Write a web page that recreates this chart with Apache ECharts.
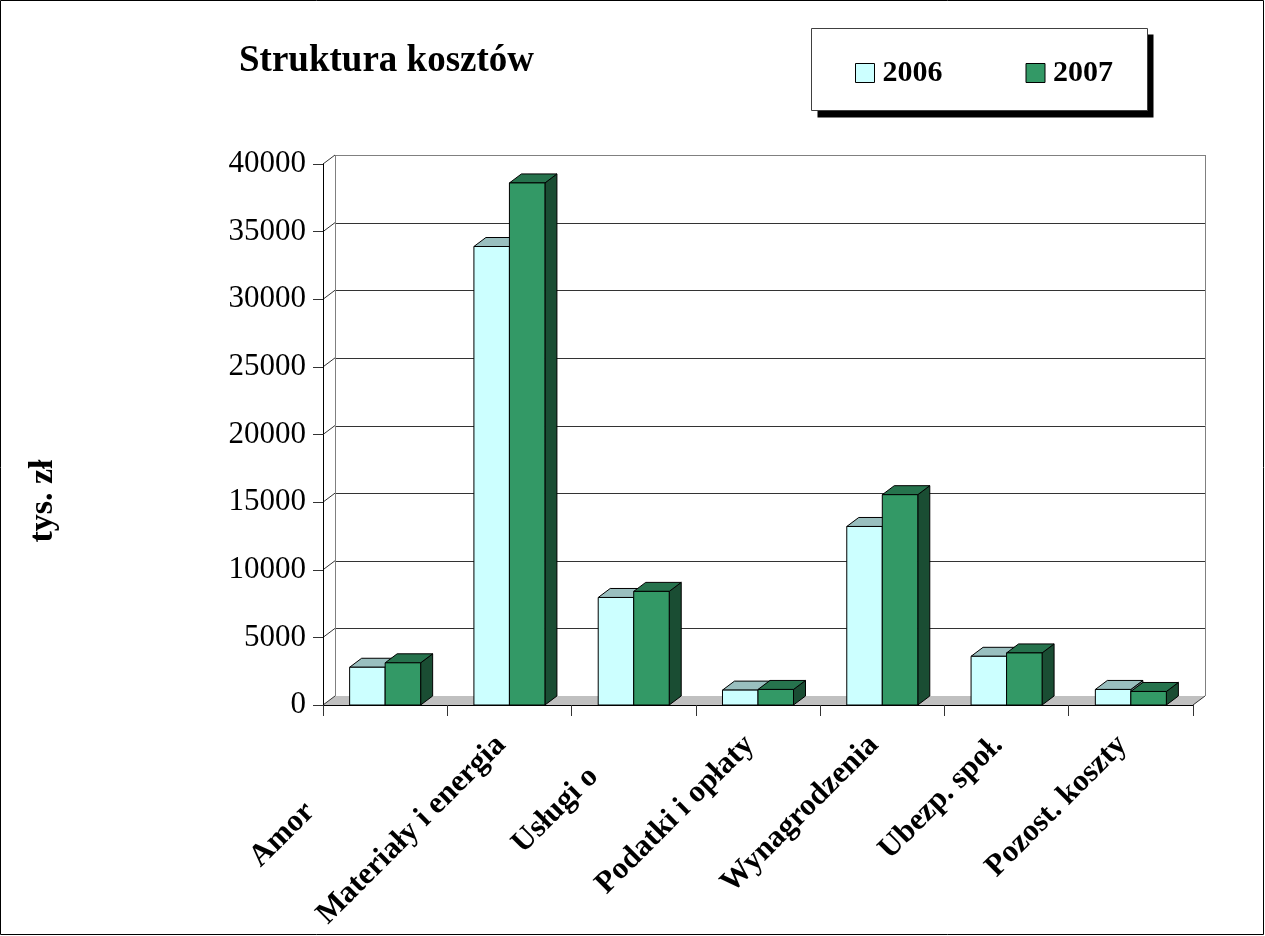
<!DOCTYPE html>
<html>
<head>
<meta charset="utf-8">
<title>Struktura kosztów</title>
<script src="https://cdn.jsdelivr.net/npm/echarts@6/dist/echarts.min.js"></script>
<style>
  html, body { margin: 0; padding: 0; background: #ffffff; }
  #chart { width: 1265px; height: 936px; }
</style>
</head>
<body>
<div id="chart"></div>
<script>
// ---- data ----
const categories = ['Amortyzacja', 'Materiały i energia', 'Usługi obce', 'Podatki i opłaty', 'Wynagrodzenia', 'Ubezp. społ.', 'Pozost. koszty'];
const seriesNames = ['2006', '2007'];
const values2006 = [2790, 33900, 7950, 1100, 13200, 3600, 1150];
const values2007 = [3120, 38600, 8400, 1150, 15550, 3850, 1000];
const yTicks = [0, 5000, 10000, 15000, 20000, 25000, 30000, 35000, 40000];
const unitLabel = 'tys. zł';
const titleText = 'Struktura kosztów';
// how many leading characters of a category label stay visible (null = whole label)
const labelVisibleChars = [4, null, 8, null, null, null, null];

// ---- look ----
const FONT = '"Liberation Serif", "Times New Roman", serif';
const DEPTH_X = 12;     // 3D depth offset of the walls and columns
const DEPTH_Y = -9;
const BAR_FRACTION = 0.2857;   // width of one column as a share of a category band
const palette = [
  { front: '#ccffff', top: '#99bfbf', side: '#668080' },
  { front: '#339966', top: '#26734d', side: '#1a4d33' }
];

const crisp = v => Math.round(v) + 0.5;

// back wall, left side wall and floor of the 3D plot area
function renderWalls(params, api) {
  const cs = params.coordSys;
  const x0 = cs.x, x1 = cs.x + cs.width;
  const yBase = api.coord([0, yTicks[0]])[1];
  const yTop = api.coord([0, yTicks[yTicks.length - 1]])[1];
  const children = [];
  children.push({
    type: 'polygon',
    shape: { points: [[x0, yBase], [x1, yBase], [x1 + DEPTH_X, yBase + DEPTH_Y], [x0 + DEPTH_X, yBase + DEPTH_Y]] },
    style: { fill: '#c0c0c0', stroke: null }
  });
  yTicks.forEach((v, k) => {
    const y = api.coord([0, v])[1];
    if (k > 0) {
      children.push({
        type: 'line',
        shape: { x1: x0 + DEPTH_X, y1: crisp(y + DEPTH_Y), x2: x1 + DEPTH_X, y2: crisp(y + DEPTH_Y) },
        style: { stroke: k === yTicks.length - 1 ? '#808080' : '#333333', lineWidth: 1 }
      });
    }
    children.push({
      type: 'line',
      shape: { x1: x0, y1: y, x2: x0 + DEPTH_X, y2: y + DEPTH_Y },
      style: { stroke: '#333333', lineWidth: 1 }
    });
  });
  [x0, x1].forEach(x => {
    children.push({
      type: 'line',
      shape: { x1: crisp(x + DEPTH_X), y1: yTop + DEPTH_Y, x2: crisp(x + DEPTH_X), y2: yBase + DEPTH_Y },
      style: { stroke: '#808080', lineWidth: 1 }
    });
  });
  children.push({
    type: 'line',
    shape: { x1: x1, y1: yBase, x2: x1 + DEPTH_X, y2: yBase + DEPTH_Y },
    style: { stroke: '#333333', lineWidth: 1 }
  });
  return { type: 'group', children: children };
}

// one 3D column: side face, top face, front face
function makeColumnRenderer(slot, colors) {
  return function (params, api) {
    const idx = api.value(0);
    const val = api.value(1);
    const top = api.coord([idx, val]);
    const base = api.coord([idx, 0]);
    const band = api.size([1, 0])[0];
    const w = band * BAR_FRACTION;
    const xl = slot === 0 ? top[0] - w : top[0];
    const xr = xl + w;
    const yt = top[1], yb = base[1];
    const edge = { stroke: '#000000', lineWidth: 1 };
    return {
      type: 'group',
      children: [
        { type: 'polygon', shape: { points: [[xr, yt], [xr + DEPTH_X, yt + DEPTH_Y], [xr + DEPTH_X, yb + DEPTH_Y], [xr, yb]] },
          style: Object.assign({ fill: colors.side }, edge) },
        { type: 'polygon', shape: { points: [[xl, yt], [xl + DEPTH_X, yt + DEPTH_Y], [xr + DEPTH_X, yt + DEPTH_Y], [xr, yt]] },
          style: Object.assign({ fill: colors.top }, edge) },
        { type: 'rect', shape: { x: xl, y: yt, width: w, height: yb - yt },
          style: Object.assign({ fill: colors.front }, edge) }
      ]
    };
  };
}

const labelFont = { fontSize: 31, fontWeight: 'bold', fontFamily: FONT };

const chart = echarts.init(document.getElementById('chart'), null, { renderer: 'canvas' });
chart.setOption({
  backgroundColor: '#ffffff',
  animation: false,
  title: {
    text: titleText,
    left: 234,
    top: 38,
    textStyle: { fontSize: 37, fontWeight: 'bold', fontFamily: FONT, color: '#000000' }
  },
  legend: {
    data: seriesNames,
    left: 855,
    top: 58,
    padding: 0,
    icon: 'rect',
    itemWidth: 19,
    itemHeight: 19,
    itemGap: 83,
    itemStyle: { borderColor: '#000000', borderWidth: 1 },
    textStyle: { fontSize: 30, fontWeight: 'bold', fontFamily: FONT, color: '#000000', padding: [0, 0, 0, 3] }
  },
  graphic: [
    { type: 'rect', z: 0, silent: true, shape: { x: 0.5, y: 0.5, width: 1263, height: 934 },
      style: { fill: null, stroke: '#000000', lineWidth: 1 } },
    { type: 'rect', z: 1, silent: true, shape: { x: 817.5, y: 34.5, width: 336, height: 83 },
      style: { fill: '#000000', stroke: null } },
    { type: 'rect', z: 2, silent: true, shape: { x: 811.5, y: 28.5, width: 336, height: 82 },
      style: { fill: '#ffffff', stroke: '#404040', lineWidth: 1 } },
    { type: 'text', z: 2, silent: true, x: 43, y: 501, rotation: Math.PI / 2,
      style: { text: unitLabel, fontSize: 34, fontWeight: 'bold', fontFamily: FONT, fill: '#000000',
               align: 'center', verticalAlign: 'middle' } }
  ],
  grid: { left: 323, right: 72, top: 164, bottom: 231, containLabel: false },
  xAxis: {
    type: 'category',
    data: categories,
    z: 5,
    boundaryGap: true,
    axisLine: { show: true, lineStyle: { color: '#000000', width: 1 } },
    axisTick: { show: true, length: 11, interval: 0, lineStyle: { color: '#333333' } },
    splitLine: { show: false },
    axisLabel: {
      interval: 0,
      rotate: 45,
      margin: 27,
      padding: [0, 12, 0, 0],
      color: '#000000',
      fontSize: 31,
      fontWeight: 'bold',
      fontFamily: FONT,
      formatter: function (value, index) {
        const n = labelVisibleChars[index];
        if (n == null) return value;
        return '{v|' + value.slice(0, n) + '}{h|' + value.slice(n) + '}';
      },
      rich: {
        v: Object.assign({ color: '#000000' }, labelFont),
        h: Object.assign({ color: 'rgba(0,0,0,0)' }, labelFont)
      }
    }
  },
  yAxis: {
    type: 'value',
    min: yTicks[0],
    max: yTicks[yTicks.length - 1],
    interval: yTicks[1] - yTicks[0],
    z: 5,
    axisLine: { show: true, lineStyle: { color: '#000000', width: 1 } },
    axisTick: { show: true, length: 10, lineStyle: { color: '#333333' } },
    splitLine: { show: false },
    axisLabel: { margin: 17, color: '#000000', fontSize: 31, fontFamily: FONT,
                 formatter: v => String(v) }
  },
  series: [
    {
      type: 'custom',
      name: 'walls',
      silent: true,
      z: 1,
      renderItem: renderWalls,
      data: [[0, 0]]
    },
    {
      type: 'custom',
      name: seriesNames[0],
      z: 3,
      itemStyle: { color: palette[0].front },
      renderItem: makeColumnRenderer(0, palette[0]),
      data: values2006.map((v, i) => [i, v])
    },
    {
      type: 'custom',
      name: seriesNames[1],
      z: 3,
      itemStyle: { color: palette[1].front },
      renderItem: makeColumnRenderer(1, palette[1]),
      data: values2007.map((v, i) => [i, v])
    }
  ]
});
</script>
</body>
</html>
